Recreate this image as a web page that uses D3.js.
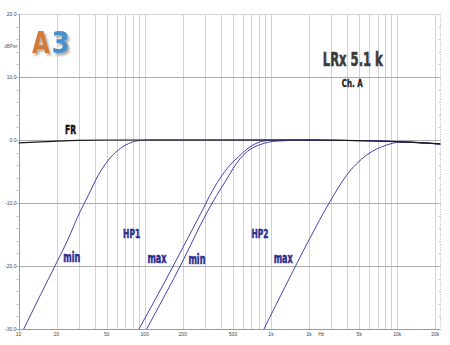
<!DOCTYPE html>
<html>
<head>
<meta charset="utf-8">
<script src="https://cdn.jsdelivr.net/npm/d3@7"></script>
<style>
  body { margin: 0; background: #fff; }
  svg { display: block; }
</style>
</head>
<body>
<div id="chart"></div>
<script>
// axis ticks
const dbTicks = [20, 10, 0, -10, -20, -30];
const dbTickLabels = ['20.0', '10.0', '0.0', '-10.0', '-20.0', '-30.0'];
const freqTicks = [10, 20, 50, 100, 200, 500, 1000, 2000, 5000, 10000, 20000];
const freqTickLabels = ['10', '20', '50', '100', '200', '500', '1k', '2k', '5k', '10k', '20k'];

const frFreq = [10, 15, 20, 30, 50, 100, 1000, 2000, 5000, 10000, 15000, 22000];
const frDb = [-0.45, -0.3, -0.18, -0.05, 0, 0, 0, 0, -0.1, -0.25, -0.42, -0.63];

const hp1MinFreq = [11, 15, 20, 24.1, 30.7, 35.7, 42.8, 51.4, 61.7, 74, 89, 110, 200, 1000, 5000, 10000, 15000, 22000];
const hp1MinDb = [-30, -24.5, -19.5, -16.2, -11.4, -8.8, -5.6, -3.2, -1.6, -0.6, -0.1, 0, 0, 0, -0.1, -0.25, -0.42, -0.63];

const hp1MaxFreq = [90, 168, 200, 282, 328, 394, 473, 550, 681, 792, 980, 1175, 2000, 5000, 10000, 15000, 22000];
const hp1MaxDb = [-30, -20.0, -17.1, -11.4, -8.8, -6.1, -4.0, -2.7, -1.1, -0.4, -0.05, 0, 0, -0.1, -0.25, -0.42, -0.63];

const hp2MinFreq = [103.5, 190, 313, 371, 431, 502, 567, 681, 817, 980, 1175, 2000, 5000, 10000, 15000, 22000];
const hp2MinDb = [-30, -20.1, -11.4, -8.8, -6.7, -4.5, -3.0, -1.5, -0.75, -0.3, -0.15, 0, -0.1, -0.25, -0.42, -0.63];

const hp2MaxFreq = [879, 1300, 1995, 2926, 3969, 5714, 8227, 10490, 15000, 22000];
const hp2MaxDb = [-30, -23.2, -15.9, -9.8, -5.6, -2.4, -0.8, -0.35, -0.45, -0.63];

// annotations (Hz, dB of baseline centre)
const labelText = ['FR', 'HP1', 'min', 'max', 'min', 'HP2', 'max'];
const labelFreq = [25.8, 78.7, 26.4, 125, 259, 817, 1250];
const labelDb = [0.95, -15.6, -19.3, -19.6, -19.7, -15.6, -19.6];
const labelWidth = [11, 17, 17, 19, 17, 17, 19];

const width = 450, height = 345;

const x = d3.scaleLog().domain([10, 22000]).range([18.5, 440.5]);
const y = d3.scaleLinear().domain([-30, 20]).range([329, 14]);

const svg = d3.select('#chart').append('svg')
  .attr('width', width)
  .attr('height', height);

svg.append('defs').append('clipPath').attr('id', 'plot')
  .append('rect')
  .attr('x', x.range()[0]).attr('y', y(20))
  .attr('width', x.range()[1] - x.range()[0])
  .attr('height', y(-30) - y(20));

const shadow = svg.select('defs').append('filter').attr('id', 'shadow')
  .attr('x', '-20%').attr('y', '-20%').attr('width', '150%').attr('height', '150%');
shadow.append('feDropShadow')
  .attr('dx', 2).attr('dy', 2.5).attr('stdDeviation', 1.2)
  .attr('flood-color', '#666').attr('flood-opacity', 0.55);

// vertical grid
const grid = svg.append('g');
grid.selectAll('.vgrid')
  .data(x.ticks().filter(f => f > 10))
  .enter().append('line')
  .attr('x1', d => Math.round(x(d)) + 0.5)
  .attr('x2', d => Math.round(x(d)) + 0.5)
  .attr('y1', y(20)).attr('y2', y(-30))
  .attr('stroke', '#d2d2d2')
  .attr('stroke-width', 1);

// horizontal grid
grid.selectAll('.hgrid')
  .data(dbTicks)
  .enter().append('line')
  .attr('x1', x.range()[0]).attr('x2', x.range()[1])
  .attr('y1', d => Math.round(y(d)) + 0.5)
  .attr('y2', d => Math.round(y(d)) + 0.5)
  .attr('stroke', d => (d === 20 ? '#d4d4d4' : '#ababab'))
  .attr('stroke-width', 1);

// minor ticks every 2 dB
const minorDb = d3.range(-30, 21, 2);
grid.selectAll('.ltick')
  .data(minorDb)
  .enter().append('line')
  .attr('x1', x.range()[0] - 2).attr('x2', x.range()[0])
  .attr('y1', d => Math.round(y(d)) + 0.5)
  .attr('y2', d => Math.round(y(d)) + 0.5)
  .attr('stroke', '#bbb');
grid.selectAll('.rtick')
  .data(minorDb)
  .enter().append('line')
  .attr('x1', x.range()[1] - 2).attr('x2', x.range()[1])
  .attr('y1', d => Math.round(y(d)) + 0.5)
  .attr('y2', d => Math.round(y(d)) + 0.5)
  .attr('stroke', '#ccc');

// frame
grid.append('line')
  .attr('x1', 19.5).attr('x2', 19.5)
  .attr('y1', y(20)).attr('y2', y(-30) + 2)
  .attr('stroke', '#9a9a9a');
grid.append('line')
  .attr('x1', x.range()[1]).attr('x2', x.range()[1])
  .attr('y1', y(20)).attr('y2', y(-30))
  .attr('stroke', '#bbb')
  .attr('stroke-dasharray', '1,1.5');
grid.append('line')
  .attr('x1', x.range()[0]).attr('x2', x.range()[1])
  .attr('y1', 329.5).attr('y2', 329.5)
  .attr('stroke', '#9a9a9a');

// axis labels
svg.append('g').selectAll('text')
  .data(dbTicks)
  .enter().append('text')
  .attr('x', 16.5)
  .attr('y', d => y(d) + 1.8)
  .attr('text-anchor', 'end')
  .attr('font-family', 'Liberation Sans, Arial, sans-serif')
  .attr('font-size', 5)
  .attr('fill', '#444')
  .text((d, i) => dbTickLabels[i]);

svg.append('text')
  .attr('x', 17.5).attr('y', 48)
  .attr('text-anchor', 'end')
  .attr('font-family', 'Liberation Sans, Arial, sans-serif')
  .attr('font-size', 4.5)
  .attr('fill', '#555')
  .text('dBPwr');

svg.append('g').selectAll('text')
  .data(freqTicks)
  .enter().append('text')
  .attr('x', d => x(d))
  .attr('y', 336)
  .attr('text-anchor', 'middle')
  .attr('font-family', 'Liberation Sans, Arial, sans-serif')
  .attr('font-size', 5)
  .attr('fill', '#444')
  .text((d, i) => freqTickLabels[i]);

svg.append('text')
  .attr('x', x(2500)).attr('y', 336)
  .attr('text-anchor', 'middle')
  .attr('font-family', 'Liberation Sans, Arial, sans-serif')
  .attr('font-size', 5)
  .attr('fill', '#444')
  .text('Hz');

// curves
const line = d3.line()
  .x(d => x(d[0]))
  .y(d => y(d[1]))
  .curve(d3.curveMonotoneX);

const zip = (fs, ds) => fs.map((f, i) => [f, ds[i]]);

const curves = svg.append('g').attr('clip-path', 'url(#plot)');
[
  zip(hp1MinFreq, hp1MinDb),
  zip(hp1MaxFreq, hp1MaxDb),
  zip(hp2MinFreq, hp2MinDb),
  zip(hp2MaxFreq, hp2MaxDb)
].forEach(pts => {
  curves.append('path')
    .attr('d', line(pts))
    .attr('fill', 'none')
    .attr('stroke', '#4343a8')
    .attr('stroke-width', 1);
});

curves.append('path')
  .attr('d', line(zip(frFreq, frDb)))
  .attr('fill', 'none')
  .attr('stroke', '#1a1a1a')
  .attr('stroke-width', 1.2);

// curve labels, heavy condensed type
const cond = 'DejaVu Sans Condensed, DejaVu Sans, sans-serif';
svg.append('g').selectAll('text')
  .data(labelText)
  .enter().append('text')
  .attr('x', (d, i) => x(labelFreq[i]))
  .attr('y', (d, i) => y(labelDb[i]))
  .attr('text-anchor', 'middle')
  .attr('font-family', cond)
  .attr('font-weight', 'bold')
  .attr('font-size', d => (d === 'min' || d === 'max') ? 14 : 13)
  .attr('textLength', (d, i) => labelWidth[i])
  .attr('lengthAdjust', 'spacingAndGlyphs')
  .attr('fill', d => (d === 'FR' ? '#111' : '#2a2d8c'))
  .attr('stroke', d => (d === 'FR' ? '#111' : '#2a2d8c'))
  .attr('stroke-width', 0.5)
  .text(d => d);

// title
svg.append('text')
  .attr('x', x(4446)).attr('y', y(11.67))
  .attr('text-anchor', 'middle')
  .attr('font-family', cond)
  .attr('font-weight', 'bold')
  .attr('font-size', 20)
  .attr('textLength', 60)
  .attr('lengthAdjust', 'spacingAndGlyphs')
  .attr('fill', '#3c3c3c')
  .attr('stroke', '#3c3c3c')
  .attr('stroke-width', 0.6)
  .text('LRx 5.1 k');

svg.append('text')
  .attr('x', x(4400)).attr('y', y(8.4))
  .attr('text-anchor', 'middle')
  .attr('font-family', cond)
  .attr('font-weight', 'bold')
  .attr('font-size', 11)
  .attr('textLength', 21)
  .attr('lengthAdjust', 'spacingAndGlyphs')
  .attr('fill', '#222')
  .attr('stroke', '#222')
  .attr('stroke-width', 0.3)
  .text('Ch. A');

// logo: two glyphs, squeezed horizontally so their boxes don't touch
const logo = svg.append('g').attr('filter', 'url(#shadow)');
logo.append('text')
  .attr('transform', 'translate(32,53) scale(0.76,1)')
  .attr('font-family', 'DejaVu Sans, sans-serif')
  .attr('font-weight', 'bold')
  .attr('font-size', 30)
  .attr('fill', '#d47a36')
  .text('A');
logo.append('text')
  .attr('transform', 'translate(51.5,53) scale(0.88,1)')
  .attr('font-family', 'DejaVu Sans, sans-serif')
  .attr('font-weight', 'bold')
  .attr('font-size', 30)
  .attr('fill', '#4b8fca')
  .text('3');
</script>
</body>
</html>
